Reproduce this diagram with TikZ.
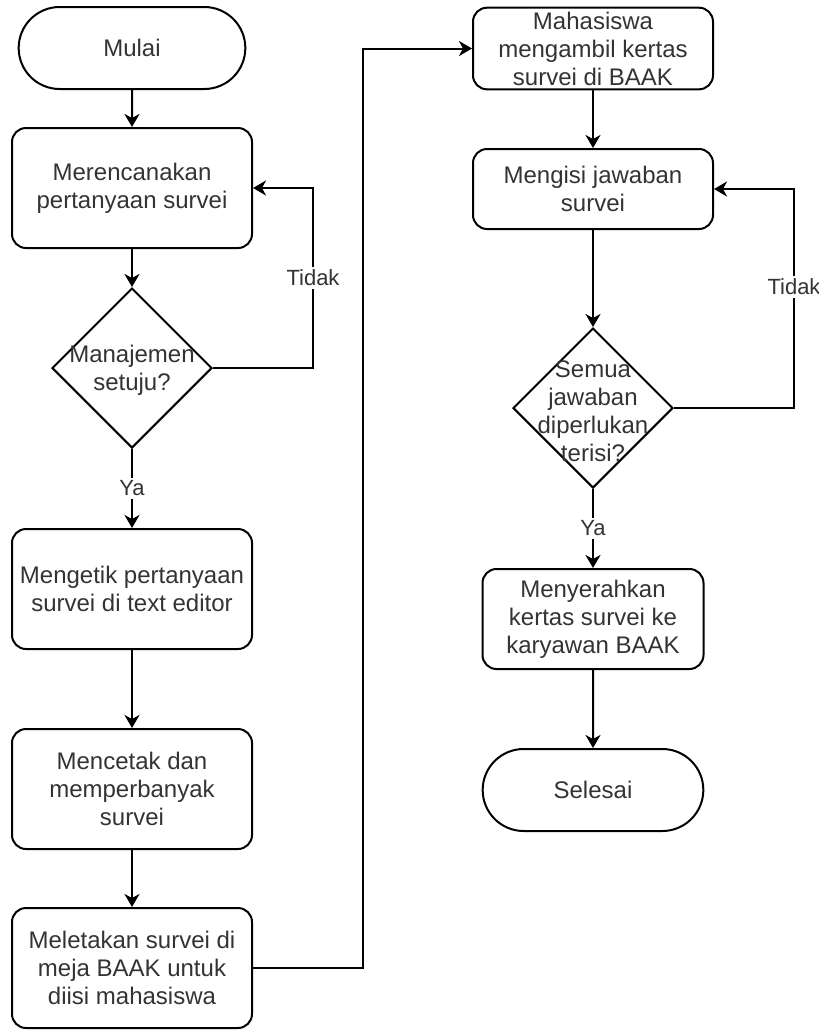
\documentclass[tikz,border=0pt]{standalone}
\usepackage{fontspec}
\setmainfont{Liberation Sans}
\usetikzlibrary{shapes.geometric,shapes.misc,arrows.meta}

\tikzset{
  proses/.style={draw,line width=1pt,rounded corners=7pt,align=center,text=black!80,
    minimum width=120pt,minimum height=60pt,inner sep=2pt,font=\fontsize{12}{14}\selectfont},
  terminal/.style={draw,line width=1pt,rounded rectangle,text=black!80,
    minimum width=120pt,minimum height=41pt,font=\fontsize{12}{14}\selectfont},
  keputusan/.style={draw,line width=1pt,diamond,minimum width=80pt,minimum height=80pt,inner sep=0pt},
  isian/.style={align=center,text=black!80,font=\fontsize{12}{14}\selectfont},
  panah/.style={line width=1pt,-{Stealth[length=6.5pt,width=7.5pt,inset=2pt]}},
  ket/.style={fill=white,text=black!80,inner sep=1.5pt,font=\fontsize{11}{13}\selectfont}
}

\begin{document}
\begin{tikzpicture}[x=0.5pt,y=-0.5pt]
\useasboundingbox (0,0) rectangle (819,1030);

% kolom kiri
\node[terminal] (mulai) at (132,48) {Mulai};
\node[proses] (rencana) at (132,188) {Merencanakan\\pertanyaan survei};
\node[keputusan] (setuju) at (132,368) {};
\node[isian] (setujutxt) at (132,370) {Manajemen\\setuju?};
\node[proses] (ketik) at (132,589) {Mengetik pertanyaan\\survei di text editor};
\node[proses] (cetak) at (132,789) {Mencetak dan\\memperbanyak\\survei};
\node[proses] (letak) at (132,968) {Meletakan survei di\\meja BAAK untuk\\diisi mahasiswa};

% kolom kanan
\node[proses,minimum height=40pt] (ambil) at (593,48.5) {Mahasiswa\\mengambil kertas\\survei di BAAK};
\node[proses,minimum height=40pt] (isi) at (593,189) {Mengisi jawaban\\survei};
\node[keputusan] (terisi) at (593,408) {};
\node[isian] (terisitxt) at (593,411) {Semua\\jawaban\\diperlukan\\terisi?};
\node[proses,minimum width=110.5pt,minimum height=50pt] (serah) at (593,619) {Menyerahkan\\kertas survei ke\\karyawan BAAK};
\node[terminal,minimum width=117pt] (selesai) at (593,790) {Selesai};

\coordinate (balik1) at (313,368);
\coordinate (balik2) at (794,408);
\coordinate (sambung) at (363,968);

% panah
\draw[panah] (mulai) -- (rencana);
\draw[panah] (rencana) -- (setuju);
\draw[panah] (setuju) -- node[ket]{Ya} (ketik);
\draw[panah] (setuju.east) -- (balik1) |- node[ket,pos=0.25]{Tidak} (rencana.east);
\draw[panah] (ketik) -- (cetak);
\draw[panah] (cetak) -- (letak);
\draw[panah] (letak.east) -- (sambung) |- (ambil.west);

\draw[panah] (ambil) -- (isi);
\draw[panah] (isi) -- (terisi);
\draw[panah] (terisi) -- node[ket]{Ya} (serah);
\draw[panah] (terisi.east) -- (balik2) |- node[ket,pos=0.276]{Tidak} (isi.east);
\draw[panah] (serah) -- (selesai);

\end{tikzpicture}
\end{document}
